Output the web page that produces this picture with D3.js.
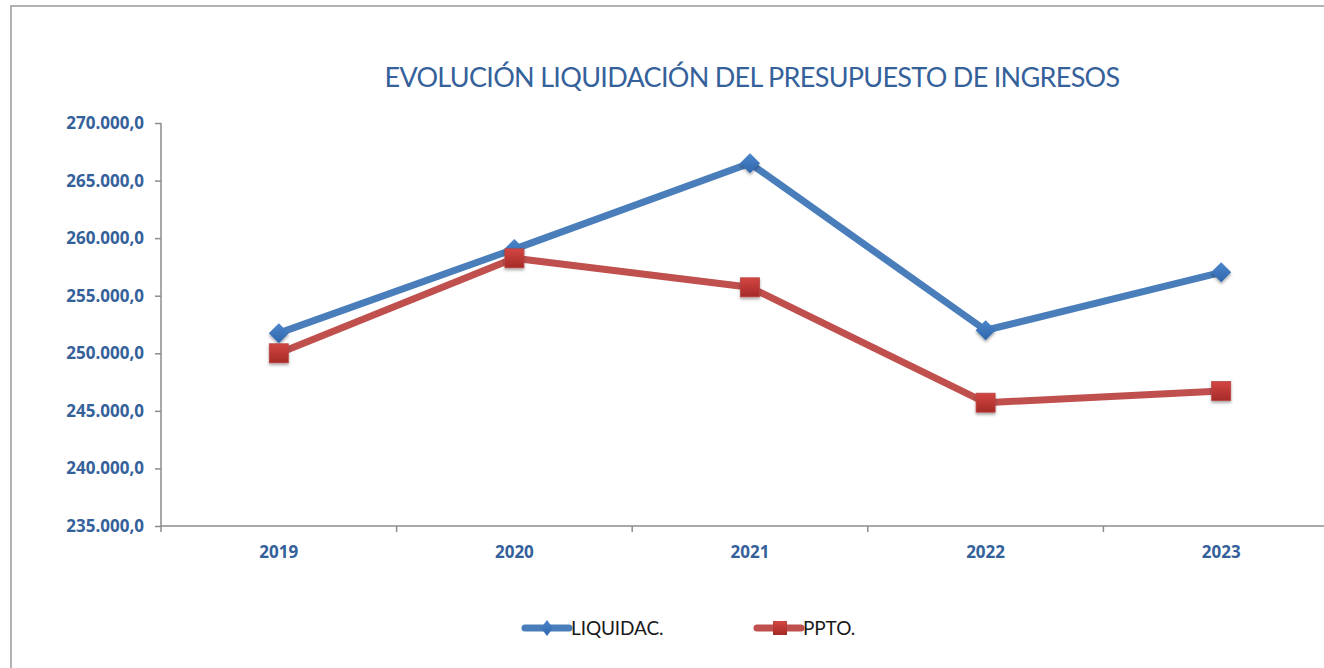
<!DOCTYPE html>
<meta charset="utf-8">
<style>
body { margin: 0; background: #fff; }
.ytick text, .xtick text { font-family: "Open Sans", "DejaVu Sans", sans-serif; font-weight: bold; fill: #35619b; }
</style>
<body>
<script src="https://d3js.org/d3.v7.min.js"></script>
<script>

// data
var years = ["2019", "2020", "2021", "2022", "2023"];
var liquidac = [251750, 259050, 266500, 252000, 257030];
var ppto = [250000, 258250, 255730, 245710, 246720];
var yTicks = [235000, 240000, 245000, 250000, 255000, 260000, 265000, 270000];
var seriesNames = ["LIQUIDAC.", "PPTO."];

var W = 1324, H = 668;
var margin = {top: 123, left: 161, bottom: 526, right: 1339};

var svg = d3.select("body").append("svg")
    .attr("width", W)
    .attr("height", H);

// shadow for the markers
var defs = svg.append("defs");
var f = defs.append("filter").attr("id", "shadow")
    .attr("x", "-50%").attr("y", "-50%").attr("width", "200%").attr("height", "200%");
f.append("feDropShadow").attr("dx", 0).attr("dy", 2).attr("stdDeviation", 1.6)
    .attr("flood-color", "#000").attr("flood-opacity", 0.35);

var gRed = defs.append("linearGradient").attr("id", "gred").attr("x1", 0).attr("y1", 0).attr("x2", 0).attr("y2", 1);
gRed.append("stop").attr("offset", "0%").attr("stop-color", "#d24643");
gRed.append("stop").attr("offset", "100%").attr("stop-color", "#a52a27");
var gBlue = defs.append("linearGradient").attr("id", "gblue").attr("x1", 0).attr("y1", 0).attr("x2", 0).attr("y2", 1);
gBlue.append("stop").attr("offset", "0%").attr("stop-color", "#4d86cc");
gBlue.append("stop").attr("offset", "100%").attr("stop-color", "#2f66ab");

// chart frame
svg.append("rect")
    .attr("x", 11).attr("y", 6)
    .attr("width", W + 20).attr("height", H + 20)
    .attr("fill", "none")
    .attr("stroke", "#9a9a9a")
    .attr("stroke-width", 1.5);

// title
svg.append("text")
    .attr("x", 752).attr("y", 87)
    .attr("text-anchor", "middle")
    .attr("font-family", "Lato, 'Liberation Sans', sans-serif")
    .attr("font-size", 27)
    .attr("letter-spacing", -0.7)
    .attr("fill", "#35619b")
    .text("EVOLUCIÓN LIQUIDACIÓN DEL PRESUPUESTO DE INGRESOS");

var x = d3.scaleBand().domain(years).range([margin.left, margin.right]);
var y = d3.scaleLinear().domain([235000, 270000]).range([margin.bottom, margin.top]);

var es = d3.formatLocale({decimal: ",", thousands: ".", grouping: [3], currency: ["", "€"]});
var fmt = es.format(",.1f");

// y axis
var yAxis = svg.append("g")
    .attr("class", "ytick")
    .attr("transform", "translate(" + margin.left + ",0)")
    .call(d3.axisLeft(y).tickValues(yTicks).tickFormat(fmt).tickSize(6).tickPadding(11));
yAxis.selectAll("text").style("font-size", "17px");
yAxis.selectAll("line, path").attr("stroke", "#8c8c8c").attr("stroke-width", 1.5);
yAxis.select(".domain").attr("d", "M0," + margin.top + "V" + margin.bottom);

// x axis
var xAxis = svg.append("g")
    .attr("class", "xtick")
    .attr("transform", "translate(0," + margin.bottom + ")");
xAxis.append("line")
    .attr("x1", margin.left).attr("x2", W)
    .attr("stroke", "#8c8c8c").attr("stroke-width", 1.5);
xAxis.selectAll("line.tk")
    .data(years)
  .enter().append("line")
    .attr("class", "tk")
    .attr("x1", function(d) { return x(d); })
    .attr("x2", function(d) { return x(d); })
    .attr("y1", 0).attr("y2", 6)
    .attr("stroke", "#8c8c8c").attr("stroke-width", 1.5);
xAxis.selectAll("text")
    .data(years)
  .enter().append("text")
    .attr("x", function(d) { return x(d) + x.bandwidth() / 2; })
    .attr("y", 32)
    .attr("text-anchor", "middle")
    .style("font-size", "17px")
    .text(function(d) { return d; });

var line = d3.line()
    .x(function(d, i) { return x(years[i]) + x.bandwidth() / 2; })
    .y(function(d) { return y(d); });

var series = [
  {name: seriesNames[0], values: liquidac, color: "#4a7ebb", fill: "url(#gblue)", shape: "diamond"},
  {name: seriesNames[1], values: ppto, color: "#c0504d", fill: "url(#gred)", shape: "square"}
];

function marker(g, s, cx, cy) {
  if (s.shape === "diamond") {
    g.append("path")
      .attr("d", "M" + cx + "," + (cy - 10) + "L" + (cx + 10) + "," + cy + "L" + cx + "," + (cy + 10) + "L" + (cx - 10) + "," + cy + "Z")
      .attr("fill", s.fill)
      .attr("filter", "url(#shadow)");
  } else {
    g.append("rect")
      .attr("x", cx - 9.5).attr("y", cy - 9.5)
      .attr("width", 19).attr("height", 19)
      .attr("fill", s.fill)
      .attr("stroke", "#b94543").attr("stroke-width", 0.8)
      .attr("filter", "url(#shadow)");
  }
}

series.forEach(function(s) {
  var g = svg.append("g");
  g.append("path")
    .datum(s.values)
    .attr("d", line)
    .attr("fill", "none")
    .attr("stroke", s.color)
    .attr("stroke-width", 7)
    .attr("stroke-linejoin", "round");
  s.values.forEach(function(v, i) {
    marker(g, s, x(years[i]) + x.bandwidth() / 2, y(v));
  });
});

// legend
var legendX = [525, 757];
series.forEach(function(s, i) {
  var g = svg.append("g").attr("transform", "translate(" + legendX[i] + ",628)");
  g.append("line")
    .attr("x1", 0).attr("x2", 44)
    .attr("stroke", s.color)
    .attr("stroke-width", 7)
    .attr("stroke-linecap", "round");
  if (s.shape === "diamond") {
    g.append("path").attr("d", "M22,-8L28,0L22,8L16,0Z").attr("fill", s.fill);
  } else {
    g.append("rect").attr("x", 16).attr("y", -7).attr("width", 14).attr("height", 14).attr("fill", s.fill);
  }
  g.append("text")
    .attr("x", 46).attr("y", 7)
    .attr("font-family", "Lato, 'Liberation Sans', sans-serif")
    .attr("font-size", 19)
    .attr("letter-spacing", -0.1)
    .attr("fill", "#1a1a1a")
    .text(s.name);
});

</script>
</body>
